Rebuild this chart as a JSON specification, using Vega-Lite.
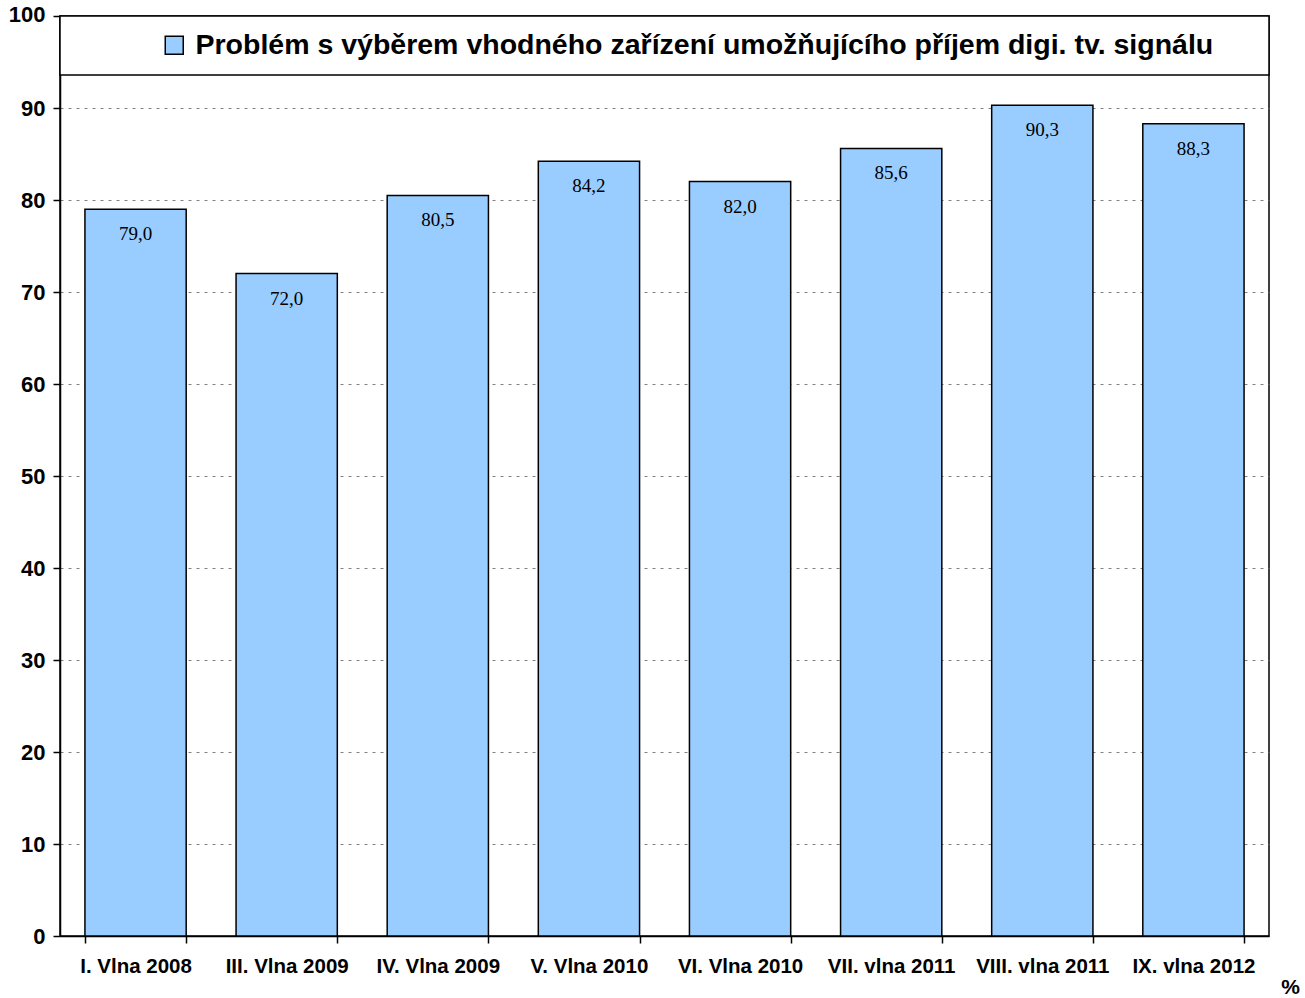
{
  "$schema": "https://vega.github.io/schema/vega-lite/v6.json",
  "width": 1209,
  "height": 920,
  "autosize": {"type": "none"},
  "padding": {"left": 60, "top": 16, "right": 36, "bottom": 62},
  "background": "white",
  "config": {
    "view": {"stroke": "black", "strokeWidth": 1.5},
    "locale": {"number": {"decimal": ",", "thousands": " ", "grouping": [3], "currency": ["", ""]}},
    "axis": {"domainColor": "black", "domainWidth": 1.5, "tickColor": "black", "tickWidth": 1.5, "labelColor": "black", "titleColor": "black"}
  },
  "data": {
    "values": [
      {"wave": "I. Vlna 2008", "value": 79.0, "series": "Problém s výběrem vhodného zařízení umožňujícího příjem digi. tv. signálu"},
      {"wave": "III. Vlna 2009", "value": 72.0, "series": "Problém s výběrem vhodného zařízení umožňujícího příjem digi. tv. signálu"},
      {"wave": "IV. Vlna 2009", "value": 80.5, "series": "Problém s výběrem vhodného zařízení umožňujícího příjem digi. tv. signálu"},
      {"wave": "V. Vlna 2010", "value": 84.2, "series": "Problém s výběrem vhodného zařízení umožňujícího příjem digi. tv. signálu"},
      {"wave": "VI. Vlna 2010", "value": 82.0, "series": "Problém s výběrem vhodného zařízení umožňujícího příjem digi. tv. signálu"},
      {"wave": "VII. vlna 2011", "value": 85.6, "series": "Problém s výběrem vhodného zařízení umožňujícího příjem digi. tv. signálu"},
      {"wave": "VIII. vlna 2011", "value": 90.3, "series": "Problém s výběrem vhodného zařízení umožňujícího příjem digi. tv. signálu"},
      {"wave": "IX. vlna 2012", "value": 88.3, "series": "Problém s výběrem vhodného zařízení umožňujícího příjem digi. tv. signálu"}
    ]
  },
  "encoding": {
    "x": {
      "field": "wave", "type": "nominal", "sort": null,
      "scale": {"paddingInner": 0.33, "paddingOuter": 0.165},
      "axis": {
        "title": "%", "labelAngle": 0, "labelFont": "Liberation Sans", "labelFontWeight": "bold", "labelFontSize": 20.5,
        "labelPadding": 13, "tickSize": 7, "tickBand": "extent", "labelLimit": 200,
        "titleFont": "Liberation Sans", "titleFontWeight": "bold", "titleFontSize": 21,
        "titleX": 1230, "titleY": 57, "titleAlign": "center", "titleBaseline": "alphabetic"
      }
    },
    "y": {
      "field": "value", "type": "quantitative",
      "scale": {"domain": [0, 100], "nice": false},
      "axis": {
        "title": null, "values": [0, 10, 20, 30, 40, 50, 60, 70, 80, 90, 100], "zindex": 0,
        "labelFont": "Liberation Sans", "labelFontWeight": "bold", "labelFontSize": 22,
        "labelPadding": 8, "tickSize": 7,
        "labelOffset": {"condition": {"test": "datum.value == 100", "value": -2}, "value": 0},
        "grid": true, "gridColor": "#808080", "gridDash": [3, 5], "gridWidth": 1
      }
    }
  },
  "layer": [
    {
      "mark": {"type": "bar", "stroke": "black", "strokeWidth": 1.5},
      "encoding": {
        "color": {
          "field": "series", "type": "nominal",
          "scale": {"range": ["#99CCFF"]},
          "legend": {
            "orient": "none", "legendX": 100, "legendY": 15, "title": null, "padding": 0,
            "symbolType": "square", "symbolSize": 324, "symbolStrokeColor": "black", "symbolStrokeWidth": 1.5,
            "symbolOffset": 0, "labelOffset": 7,
            "labelFont": "Liberation Sans", "labelFontWeight": "bold", "labelFontSize": 28.5, "labelColor": "black", "labelLimit": 1200
          }
        }
      }
    },
    {
      "mark": {"type": "text", "baseline": "middle", "align": "center", "dy": 25, "font": "Liberation Serif", "fontSize": 19, "color": "black"},
      "encoding": {"text": {"field": "value", "type": "quantitative", "format": ".1f"}}
    },
    {
      "data": {"values": [{"top": 100, "bottom": 93.6}]},
      "mark": {"type": "rect", "fill": "white", "stroke": "black", "strokeWidth": 1.5},
      "encoding": {
        "x": null,
        "y": {"field": "top", "type": "quantitative"},
        "y2": {"field": "bottom"}
      }
    }
  ]
}
